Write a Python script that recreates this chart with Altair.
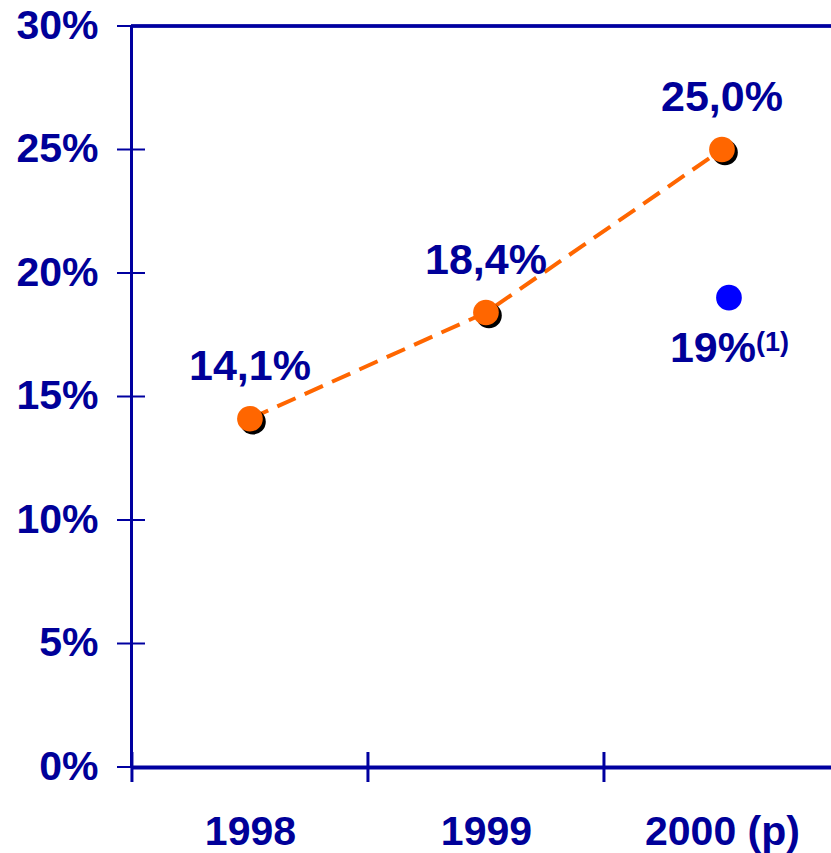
import altair as alt
import pandas as pd

# Growth rate by year (orange series) and the alternative estimate (blue point)
years = [1998, 1999, 2000]
year_labels = ["1998", "1999", "2000 (p)"]
rates = [14.1, 18.4, 25.0]

alt_years = [2000]
alt_rates = [19]
alt_notes = ["(1)"]

y_tick_values = [0, 5, 10, 15, 20, 25, 30]
x_tick_values = [1997.5, 1998.5, 1999.5]   # boundaries between the year slots

NAVY = "#000099"
AXIS = "#0000A0"
ORANGE = "#FF6600"
BLUE = "#0000FF"
FONT = "Liberation Sans"

x_domain = [1997.496, 2000.462]
y_domain = [0, 30]

main = pd.DataFrame({"year": years, "rate": rates})
proj = pd.DataFrame({"year": alt_years, "rate": alt_rates, "note": alt_notes})
ytick_df = pd.DataFrame({"year": [x_domain[0]] * len(y_tick_values), "rate": y_tick_values})
xtick_df = pd.DataFrame({"year": x_tick_values, "rate": [0] * len(x_tick_values)})

# x-axis label lookup: year value -> displayed label
x_label_expr = f"'{year_labels[-1]}'"
for y, lab in reversed(list(zip(years[:-1], year_labels[:-1]))):
    x_label_expr = f"datum.value == {y} ? '{lab}' : " + x_label_expr

x_axis = alt.Axis(
    values=years, labelExpr=x_label_expr, ticks=False, tickSize=0,
    domainColor=AXIS, domainWidth=4, grid=False, title=None,
    labelFont=FONT, labelFontSize=41, labelFontWeight="bold", labelColor=NAVY,
    labelPadding=77, labelBaseline="alphabetic", labelFlush=False, labelOverlap=False,
)
y_axis = alt.Axis(
    values=y_tick_values, labelExpr="datum.value + '%'", ticks=False, tickSize=0,
    domainColor=AXIS, domainWidth=3, grid=False, title=None,
    labelFont=FONT, labelFontSize=41, labelFontWeight="bold", labelColor=NAVY,
    labelPadding=33, labelAlign="right", labelBaseline="middle", labelFlush=False,
    labelOverlap=False,
)

X = alt.X("year:Q", scale=alt.Scale(domain=x_domain, nice=False, zero=False), axis=x_axis)
Y = alt.Y("rate:Q", scale=alt.Scale(domain=y_domain, nice=False, zero=False), axis=y_axis)

# frame line along the top of the plot
top_rule = alt.Chart(main).mark_rule(color=AXIS, strokeWidth=3).encode(
    y=alt.datum(y_domain[1])
)

# tick marks crossing the axes
y_ticks = alt.Chart(ytick_df).mark_tick(
    orient="horizontal", size=28, thickness=2, color=AXIS, opacity=1
).encode(x=X, y=Y)
x_ticks = alt.Chart(xtick_df).mark_tick(
    orient="vertical", size=30, thickness=3, color=AXIS, opacity=1
).encode(x=X, y=Y)

line = alt.Chart(main).mark_line(
    color=ORANGE, strokeWidth=4, strokeDash=[20, 10]
).encode(x=X, y=Y)

shadow = alt.Chart(main).mark_circle(size=660, color="black", opacity=1).encode(
    x=X, y=Y, xOffset=alt.value(3), yOffset=alt.value(3)
)
dots = alt.Chart(main).mark_circle(size=660, color=ORANGE, opacity=1).encode(x=X, y=Y)

labels = alt.Chart(main).transform_calculate(
    label="replace(format(datum.rate, '.1f'), '.', ',') + '%'"
).mark_text(
    font=FONT, fontSize=43, fontWeight="bold", color=NAVY,
    baseline="alphabetic", align="center", dy=-39,
).encode(x=X, y=Y, text="label:N")

# alternative estimate sits slightly right of the year centre
proj_dot = alt.Chart(proj).mark_circle(size=660, color=BLUE, opacity=1).encode(
    x=X, y=Y, xOffset=alt.value(7)
)
proj_label = alt.Chart(proj).transform_calculate(
    label="format(datum.rate, 'd') + '%'"
).mark_text(
    font=FONT, fontSize=43, fontWeight="bold", color=NAVY,
    baseline="alphabetic", align="right", dx=34, dy=64,
).encode(x=X, y=Y, text="label:N")
proj_note = alt.Chart(proj).mark_text(
    font=FONT, fontSize=27, fontWeight="bold", color=NAVY,
    baseline="alphabetic", align="left", dx=34, dy=53,
).encode(x=X, y=Y, text="note:N")

chart = alt.layer(
    line, top_rule, y_ticks, x_ticks, shadow, dots, labels, proj_dot, proj_label, proj_note
).properties(
    width=700, height=741,
    padding={"left": 131, "top": 26, "right": 0, "bottom": 86},
    autosize=alt.AutoSizeParams(type="none"),
    background="white",
).configure_view(stroke=None)

chart.save("out.html", embed_options={"renderer": "svg", "actions": False})
